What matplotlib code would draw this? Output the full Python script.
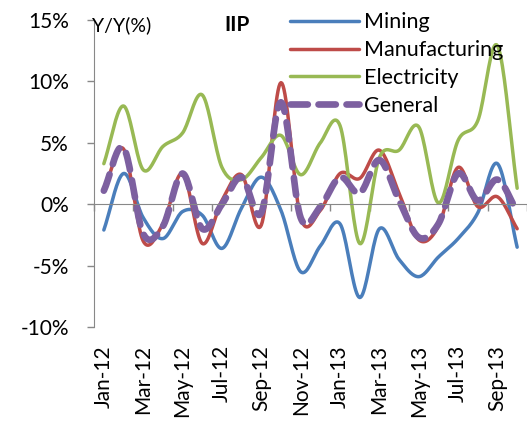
import numpy as np
import matplotlib.pyplot as plt

# monthly Y/Y growth (%) Jan-12 .. Oct-13
months = ['Jan-12', 'Feb-12', 'Mar-12', 'Apr-12', 'May-12', 'Jun-12', 'Jul-12', 'Aug-12',
          'Sep-12', 'Oct-12', 'Nov-12', 'Dec-12', 'Jan-13', 'Feb-13', 'Mar-13', 'Apr-13',
          'May-13', 'Jun-13', 'Jul-13', 'Aug-13', 'Sep-13', 'Oct-13']
mining = [-2.1, 2.5, -1.1, -2.8, -0.6, -0.9, -3.6, -0.3, 2.2, -0.5, -5.5, -3.4,
          -1.6, -7.6, -2.0, -4.5, -5.9, -4.3, -2.8, -0.7, 3.3, -3.5]
manufacturing = [1.1, 4.5, -3.0, -1.6, 2.5, -3.2, 0.3, 2.4, -1.7, 9.9, -1.1, -0.5,
                 2.5, 2.1, 4.4, 0.9, -2.9, -1.8, 3.0, -0.2, 0.6, -2.0]
electricity = [3.3, 8.0, 2.8, 4.7, 5.8, 8.9, 3.0, 2.0, 3.8, 5.6, 2.4, 5.0,
               6.4, -3.2, 3.8, 4.4, 6.3, 0.1, 5.2, 6.8, 12.9, 1.3]
general = [1.1, 4.6, -2.4, -1.8, 2.5, -2.0, 0.0, 2.2, -0.7, 8.3, -1.1, -0.2,
           2.2, 0.9, 3.6, 0.3, -2.7, -1.6, 2.5, 0.3, 2.0, -0.6]


def smooth(y, n=20):
    # Catmull-Rom curve through the points, like Excel's smoothed line
    y = np.asarray(y, float)
    p = np.concatenate([[2 * y[0] - y[1]], y, [2 * y[-1] - y[-2]]])
    xs, ys = [], []
    for i in range(len(y) - 1):
        t = np.linspace(0, 1, n, endpoint=False)
        p0, p1, p2, p3 = p[i], p[i + 1], p[i + 2], p[i + 3]
        ys.append(0.5 * (2 * p1 + (-p0 + p2) * t + (2 * p0 - 5 * p1 + 4 * p2 - p3) * t ** 2
                         + (-p0 + 3 * p1 - 3 * p2 + p3) * t ** 3))
        xs.append(i + t)
    xs.append([len(y) - 1])
    ys.append([y[-1]])
    return np.concatenate(xs), np.concatenate(ys)


plt.rcParams['font.family'] = ['Lato', 'DejaVu Sans']
fig = plt.figure(figsize=(5.27, 4.21), dpi=100)
ax = fig.add_axes([94 / 527, 1 - 327 / 421, 1 - 94 / 527, 307 / 421])

series = [('Mining', mining, '#4A7EBB'), ('Manufacturing', manufacturing, '#BE4B48'),
          ('Electricity', electricity, '#98B954')]
for name, vals, col in series:
    x, y = smooth(vals)
    ax.plot(x, y, color=col, lw=2.5, label=name, solid_capstyle='round')
x, y = smooth(general)
ax.plot(x, y, color='#7D60A0', lw=4.8, dashes=(2.6, 1.6), dash_capstyle='round', label='General')

ax.set_xlim(-0.5, len(months) - 0.5)
ax.set_ylim(-10, 15)
ax.set_yticks(np.arange(-10, 16, 5))
ax.set_yticklabels([f'{v}%' for v in range(-10, 16, 5)], fontsize=15)
ax.tick_params(axis='y', length=5, color='#888888', width=1, pad=13)

for s in ['top', 'right']:
    ax.spines[s].set_visible(False)
ax.spines['left'].set_color('#888888')
ax.spines['bottom'].set_position(('data', 0))
ax.spines['bottom'].set_color('#888888')
ax.set_xticks(np.arange(-0.5, len(months), 2))
ax.set_xticklabels([])
ax.tick_params(axis='x', length=5, color='#888888', width=1, direction='out')

sec = ax.secondary_xaxis(0.0)
sec.set_xticks(range(0, len(months), 2))
sec.set_xticklabels(months[::2], rotation=90, fontsize=15)
sec.tick_params(length=0, pad=13)
sec.spines['bottom'].set_visible(False)

ax.text(-0.6, 14.6, 'Y/Y(%)', fontsize=14, va='center', ha='left')
ax.text(6.75, 14.6, 'IIP', fontsize=15, fontweight='bold', va='center', ha='center')

ax.legend(loc='upper left', bbox_to_anchor=(0.453, 1.025), frameon=False, fontsize=15.5,
          handlelength=3.2, handletextpad=0.25, labelspacing=0.36, borderaxespad=0, borderpad=0)

plt.savefig('out.png', dpi=100)
